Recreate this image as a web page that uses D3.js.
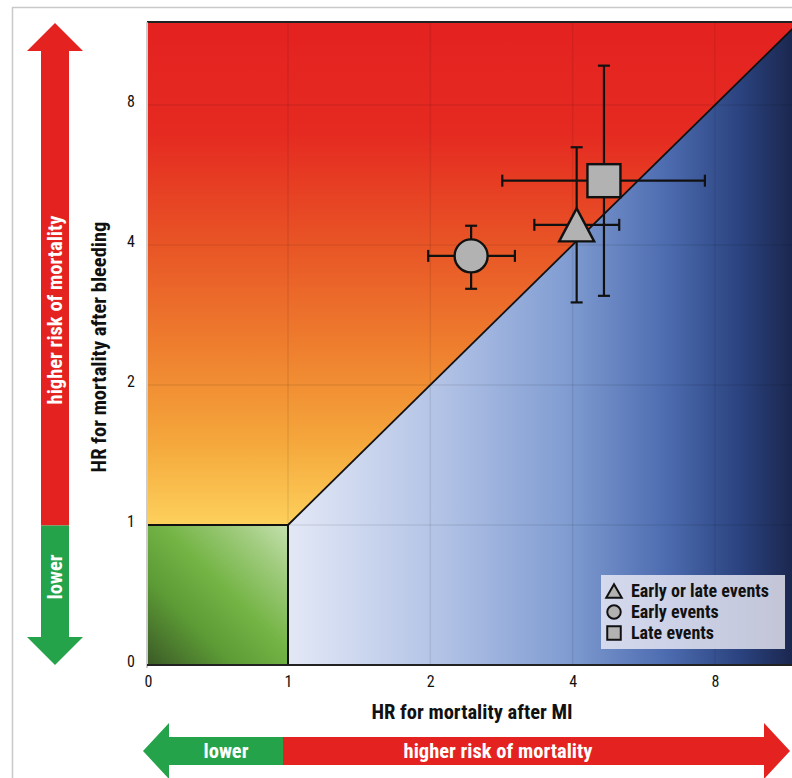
<!DOCTYPE html>
<html>
<head>
<meta charset="utf-8">
<script src="https://cdn.jsdelivr.net/npm/d3@7"></script>
<style>
  html, body { margin: 0; padding: 0; background: #fff; }
  svg { display: block; }
  text { font-family: "Liberation Sans Narrow", "Roboto Condensed", "DejaVu Sans Condensed", "Liberation Sans", sans-serif; }
</style>
</head>
<body>
<svg id="chart" width="792" height="778"></svg>
<script>
// Hazard ratios: mortality after MI (x) vs. after bleeding (y), with 95% CI
const seriesNames = ["Early or late events", "Early events", "Late events"];
const seriesShapes = ["triangle", "circle", "square"];
const hrMI       = [4.08, 2.44, 4.66];
const hrMILow    = [3.32, 1.98, 2.84];
const hrMIHigh   = [5.02, 3.02, 7.62];
const hrBleed     = [4.42, 3.79, 5.50];
const hrBleedLow  = [3.01, 3.22, 3.11];
const hrBleedHigh = [6.49, 4.40, 9.72];
const tickValues = [0, 1, 2, 4, 8];
const tickLabels = ["0", "1", "2", "4", "8"];

const W = 792, H = 778;
const plot = { left: 148, top: 22, right: 792, bottom: 665 };

// Axis is linear between 0 and 1, then log2 above 1
const toT = v => (v < 1 ? v : 1 + Math.log2(v));
const xT = d3.scaleLinear().domain([0, 1, 5]).range([148, 288, 288 + 142.3 * 4]);
const yT = d3.scaleLinear().domain([0, 1, 5]).range([665, 525, 525 - 140 * 4]);
const x = v => xT(toT(v));
const y = v => yT(toT(v));

const svg = d3.select("#chart");
const defs = svg.append("defs");

// page frame
svg.append("path")
  .attr("d", `M12.5,${H} V7.5 H${W}`)
  .attr("fill", "none").attr("stroke", "#c9c9c9").attr("stroke-width", 1.5);

// gradients
const gRed = defs.append("linearGradient").attr("id", "gRed")
  .attr("gradientUnits", "userSpaceOnUse").attr("x1", 0).attr("x2", 0)
  .attr("y1", plot.top).attr("y2", y(1));
[[0, "#e42220"], [0.22, "#e52a21"], [0.44, "#e85426"], [0.64, "#ee7d2e"], [0.84, "#f5a83c"], [1, "#fdd15c"]]
  .forEach(([o, c]) => gRed.append("stop").attr("offset", o).attr("stop-color", c));

const gBlue = defs.append("linearGradient").attr("id", "gBlue")
  .attr("gradientUnits", "userSpaceOnUse").attr("y1", 0).attr("y2", 0)
  .attr("x1", x(1)).attr("x2", plot.right);
[[0, "#e3e8f6"], [0.3, "#b3c3e6"], [0.55, "#819dd2"], [0.75, "#4d6cb0"], [0.9, "#2a427e"], [1, "#1b274f"]]
  .forEach(([o, c]) => gBlue.append("stop").attr("offset", o).attr("stop-color", c));

const gGreen = defs.append("linearGradient").attr("id", "gGreen")
  .attr("gradientUnits", "userSpaceOnUse")
  .attr("x1", x(0)).attr("y1", y(0)).attr("x2", x(1)).attr("y2", y(1));
[[0, "#3b5a26"], [0.3, "#5c9a35"], [0.55, "#74b445"], [0.8, "#9fcb7c"], [1, "#c4e0ae"]]
  .forEach(([o, c]) => gGreen.append("stop").attr("offset", o).attr("stop-color", c));

defs.append("clipPath").attr("id", "plotClip").append("rect")
  .attr("x", plot.left).attr("y", plot.top)
  .attr("width", plot.right - plot.left).attr("height", plot.bottom - plot.top);

const area = svg.append("g").attr("clip-path", "url(#plotClip)");
const vMax = 64;
const line = d3.line().x(d => x(d[0])).y(d => y(d[1]));

// bleeding worse than MI (above the identity line)
area.append("path").attr("d", line([[0, 1], [1, 1], [vMax, vMax], [0, vMax]]) + "Z")
  .attr("fill", "url(#gRed)");
// MI worse than bleeding (below the identity line)
area.append("path").attr("d", line([[1, 0], [1, 1], [vMax, vMax], [vMax, 0]]) + "Z")
  .attr("fill", "url(#gBlue)");
// both lower
area.append("rect").attr("x", x(0)).attr("y", y(1))
  .attr("width", x(1) - x(0)).attr("height", y(0) - y(1))
  .attr("fill", "url(#gGreen)");

// grid
const gridVals = [1, 2, 4, 8];
area.selectAll(".gx").data(gridVals).join("line")
  .attr("x1", d => x(d)).attr("x2", d => x(d)).attr("y1", plot.top).attr("y2", plot.bottom)
  .attr("stroke", "#000").attr("stroke-opacity", 0.08).attr("stroke-width", 1.5);
area.selectAll(".gy").data(gridVals).join("line")
  .attr("y1", d => y(d)).attr("y2", d => y(d)).attr("x1", plot.left).attr("x2", plot.right)
  .attr("stroke", "#000").attr("stroke-opacity", 0.08).attr("stroke-width", 1.5);

// identity line and the boundary of the "lower" square
area.append("path").attr("d", line([[1, 1], [vMax, vMax]]))
  .attr("fill", "none").attr("stroke", "#111").attr("stroke-width", 1.8);
area.append("path").attr("d", line([[0, 1], [1, 1], [1, 0]]))
  .attr("fill", "none").attr("stroke", "#111").attr("stroke-width", 2);

// plot frame
svg.append("line").attr("x1", plot.left - 1).attr("x2", plot.right).attr("y1", plot.top).attr("y2", plot.top)
  .attr("stroke", "#222").attr("stroke-width", 2.2);
svg.append("line").attr("x1", plot.left - 1).attr("x2", plot.left - 1).attr("y1", plot.top).attr("y2", plot.bottom + 3)
  .attr("stroke", "#bdbdbd").attr("stroke-width", 1.5);
svg.append("line").attr("x1", plot.left - 1).attr("x2", plot.right).attr("y1", plot.bottom).attr("y2", plot.bottom)
  .attr("stroke", "#222").attr("stroke-width", 2);

// axes (tick labels only)
const xAxis = d3.axisBottom(xT).tickValues(tickValues.map(toT))
  .tickFormat((d, i) => tickLabels[i]).tickSize(0).tickPadding(11);
svg.append("g").attr("transform", `translate(0,${plot.bottom})`).call(xAxis)
  .call(g => g.select(".domain").remove())
  .selectAll("text").attr("font-size", 16).attr("fill", "#111")
  .style("font-family", '"Liberation Sans Narrow", "Roboto Condensed", "DejaVu Sans Condensed", sans-serif');

const yAxis = d3.axisLeft(yT).tickValues(tickValues.map(toT))
  .tickFormat((d, i) => tickLabels[i]).tickSize(0).tickPadding(13);
svg.append("g").attr("transform", `translate(${plot.left},0)`).call(yAxis)
  .call(g => g.select(".domain").remove())
  .selectAll("text").attr("font-size", 16).attr("fill", "#111").attr("dy", "0.1em")
  .style("font-family", '"Liberation Sans Narrow", "Roboto Condensed", "DejaVu Sans Condensed", sans-serif');

// axis titles
svg.append("text").attr("x", 472).attr("y", 719).attr("text-anchor", "middle")
  .attr("font-size", 20.5).attr("font-weight", "bold").attr("fill", "#111")
  .text("HR for mortality after MI");
svg.append("text").attr("transform", "translate(106,347) rotate(-90)").attr("text-anchor", "middle")
  .attr("font-size", 20.5).attr("font-weight", "bold").attr("fill", "#111")
  .text("HR for mortality after bleeding");

// markers with confidence intervals
const cap = 6;
const pts = hrMI.map((v, i) => ({
  shape: seriesShapes[i], x: v, y: hrBleed[i],
  xl: hrMILow[i], xh: hrMIHigh[i], yl: hrBleedLow[i], yh: hrBleedHigh[i]
}));
// draw order: circle, square, triangle on top
const order = [1, 2, 0];
const marks = svg.append("g").attr("clip-path", "url(#plotClip)");
order.forEach(i => {
  const d = pts[i];
  const g = marks.append("g").attr("stroke", "#111").attr("stroke-width", 2.2).attr("fill", "none");
  const cx = x(d.x), cy = y(d.y);
  g.append("line").attr("x1", x(d.xl)).attr("x2", x(d.xh)).attr("y1", cy).attr("y2", cy);
  g.append("line").attr("x1", x(d.xl)).attr("x2", x(d.xl)).attr("y1", cy - cap).attr("y2", cy + cap);
  g.append("line").attr("x1", x(d.xh)).attr("x2", x(d.xh)).attr("y1", cy - cap).attr("y2", cy + cap);
  g.append("line").attr("x1", cx).attr("x2", cx).attr("y1", y(d.yl)).attr("y2", y(d.yh));
  g.append("line").attr("y1", y(d.yl)).attr("y2", y(d.yl)).attr("x1", cx - cap).attr("x2", cx + cap);
  g.append("line").attr("y1", y(d.yh)).attr("y2", y(d.yh)).attr("x1", cx - cap).attr("x2", cx + cap);
});
function drawShape(g, shape, cx, cy, s, sw) {
  let el;
  if (shape === "circle") {
    el = g.append("circle").attr("cx", cx).attr("cy", cy).attr("r", s / 2);
  } else if (shape === "square") {
    el = g.append("rect").attr("x", cx - s / 2).attr("y", cy - s / 2).attr("width", s).attr("height", s);
  } else {
    el = g.append("path").attr("d", `M${cx},${cy - s / 2}L${cx + s / 2 + 1},${cy + s / 2}L${cx - s / 2 - 1},${cy + s / 2}Z`);
  }
  el.attr("fill", "#b2b2b2").attr("stroke", "#111").attr("stroke-width", sw).attr("stroke-linejoin", "miter");
}
order.forEach(i => {
  const d = pts[i];
  drawShape(marks, d.shape, x(d.x), y(d.y), 33, 2.4);
});

// legend
const lg = svg.append("g");
lg.append("rect").attr("x", 601).attr("y", 575).attr("width", 184).attr("height", 74)
  .attr("fill", "#eeecf6").attr("fill-opacity", 0.8);
seriesNames.forEach((name, i) => {
  const cy = 591 + i * 21;
  drawShape(lg, seriesShapes[i], 614, cy, 13.5, 2);
  lg.append("text").attr("x", 631).attr("y", cy).attr("dy", "0.36em")
    .attr("font-size", 18).attr("font-weight", "bold").attr("fill", "#111").text(name);
});

// risk arrows
const RED = "#e42320", GREEN = "#25a34a";
// vertical: up = higher risk, down = lower
const va = svg.append("g");
va.append("path").attr("d", "M55,23 L83,51 L69,51 L69,525.5 L41,525.5 L41,51 L27,51 Z").attr("fill", RED);
va.append("path").attr("d", "M41,525.5 L69,525.5 L69,637 L83,637 L55,665 L27,637 L41,637 Z").attr("fill", GREEN);
va.append("text").attr("transform", "translate(55,310) rotate(-90)").attr("text-anchor", "middle")
  .attr("dy", "0.35em").attr("font-size", 20.5).attr("font-weight", "bold").attr("fill", "#fff")
  .text("higher risk of mortality");
va.append("text").attr("transform", "translate(55,577) rotate(-90)").attr("text-anchor", "middle")
  .attr("dy", "0.35em").attr("font-size", 20.5).attr("font-weight", "bold").attr("fill", "#fff")
  .text("lower");

// horizontal: right = higher risk, left = lower
const ha = svg.append("g");
ha.append("path").attr("d", "M143,751 L169,723 L169,737 L283,737 L283,765 L169,765 L169,779 Z").attr("fill", GREEN);
ha.append("path").attr("d", "M283,737 L764,737 L764,723 L790,751 L764,779 L764,765 L283,765 Z").attr("fill", RED);
ha.append("text").attr("x", 226).attr("y", 751).attr("dy", "0.35em").attr("text-anchor", "middle")
  .attr("font-size", 20.5).attr("font-weight", "bold").attr("fill", "#fff").text("lower");
ha.append("text").attr("x", 498).attr("y", 751).attr("dy", "0.35em").attr("text-anchor", "middle")
  .attr("font-size", 20.5).attr("font-weight", "bold").attr("fill", "#fff").text("higher risk of mortality");
</script>
</body>
</html>
